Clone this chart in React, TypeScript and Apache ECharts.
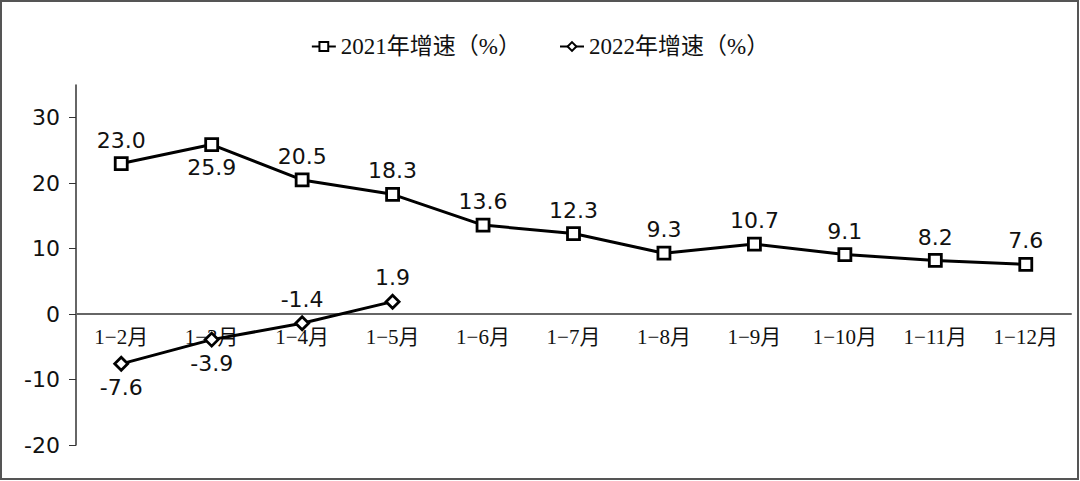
import { useEffect, useRef } from "react";
import * as echarts from "echarts";

const categories = ["1−2月", "1−3月", "1−4月", "1−5月", "1−6月", "1−7月", "1−8月", "1−9月", "1−10月", "1−11月", "1−12月"];
const growth2021 = [23.0, 25.9, 20.5, 18.3, 13.6, 12.3, 9.3, 10.7, 9.1, 8.2, 7.6];
const growth2022 = [-7.6, -3.9, -1.4, 1.9];
const labelPos2021 = ["top", "bottom", "top", "top", "top", "top", "top", "top", "top", "top", "top"];
const labelPos2022 = ["bottom", "bottom", "top", "top"];
const yTicks = [-20, -10, 0, 10, 20, 30];

const SANS = "'DejaVu Sans', Verdana, sans-serif";
const SERIF = "'Liberation Serif', 'DejaVu Serif', 'Noto Sans CJK SC', serif";

export default function App() {
  const chartRef = useRef<HTMLDivElement>(null);

  useEffect(() => {
    if (!chartRef.current) return;
    document.body.style.margin = "0";
    const chart = echarts.init(chartRef.current, null, { renderer: "svg" });

    const withLabels = (vals: number[], pos: string[]) =>
      vals.map((v, i) => ({ value: v, label: { position: pos[i] } }));

    const dataLabel = {
      show: true,
      fontFamily: SANS,
      fontSize: 22,
      color: "#111",
      distance: 5,
      formatter: (p: any) => p.value.toFixed(1),
    };

    chart.setOption({
      animation: false,
      backgroundColor: "#ffffff",
      graphic: [
        {
          type: "rect",
          shape: { x: 1, y: 1, width: 1077, height: 478 },
          style: { fill: "none", stroke: "#555", lineWidth: 2 },
          silent: true,
        },
      ],
      legend: {
        top: 30,
        left: "center",
        itemWidth: 24,
        itemHeight: 11,
        itemGap: 38,
        textStyle: { fontFamily: SERIF, fontSize: 23, color: "#111" },
        data: ["2021年增速（%）", "2022年增速（%）"],
      },
      grid: { left: 76, right: 9, top: 85, bottom: 36, containLabel: false },
      xAxis: {
        type: "category",
        data: categories,
        boundaryGap: true,
        axisLine: { onZero: true, lineStyle: { color: "#666", width: 2 } },
        axisTick: { show: false },
        axisLabel: {
          fontFamily: SERIF,
          fontSize: 21,
          color: "#111",
          margin: -119,
          interval: 0,
        },
      },
      yAxis: {
        type: "value",
        min: -20,
        max: 35,
        interval: 10,
        splitLine: { show: false },
        axisLine: { show: true, lineStyle: { color: "#333", width: 1.5 } },
        axisTick: {
          show: true,
          inside: false,
          length: 7,
          lineStyle: { color: "#333" },
          customValues: yTicks,
        },
        axisLabel: {
          fontFamily: SANS,
          fontSize: 22,
          color: "#111",
          margin: 16,
          customValues: yTicks,
        },
      },
      series: [
        {
          name: "2021年增速（%）",
          type: "line",
          data: withLabels(growth2021, labelPos2021),
          symbol: "rect",
          symbolSize: 12,
          lineStyle: { color: "#000", width: 3 },
          itemStyle: { color: "#fff", borderColor: "#000", borderWidth: 2.8 },
          label: dataLabel,
        },
        {
          name: "2022年增速（%）",
          type: "line",
          data: withLabels(growth2022, labelPos2022),
          symbol: "diamond",
          symbolSize: 13,
          lineStyle: { color: "#000", width: 3 },
          itemStyle: { color: "#fff", borderColor: "#000", borderWidth: 2.8 },
          label: dataLabel,
        },
      ],
    });

    return () => {
      chart.dispose();
    };
  }, []);

  return (
    <div
      ref={chartRef}
      style={{ position: "absolute", left: 0, top: 0, width: 1080, height: 481 }}
    />
  );
}
